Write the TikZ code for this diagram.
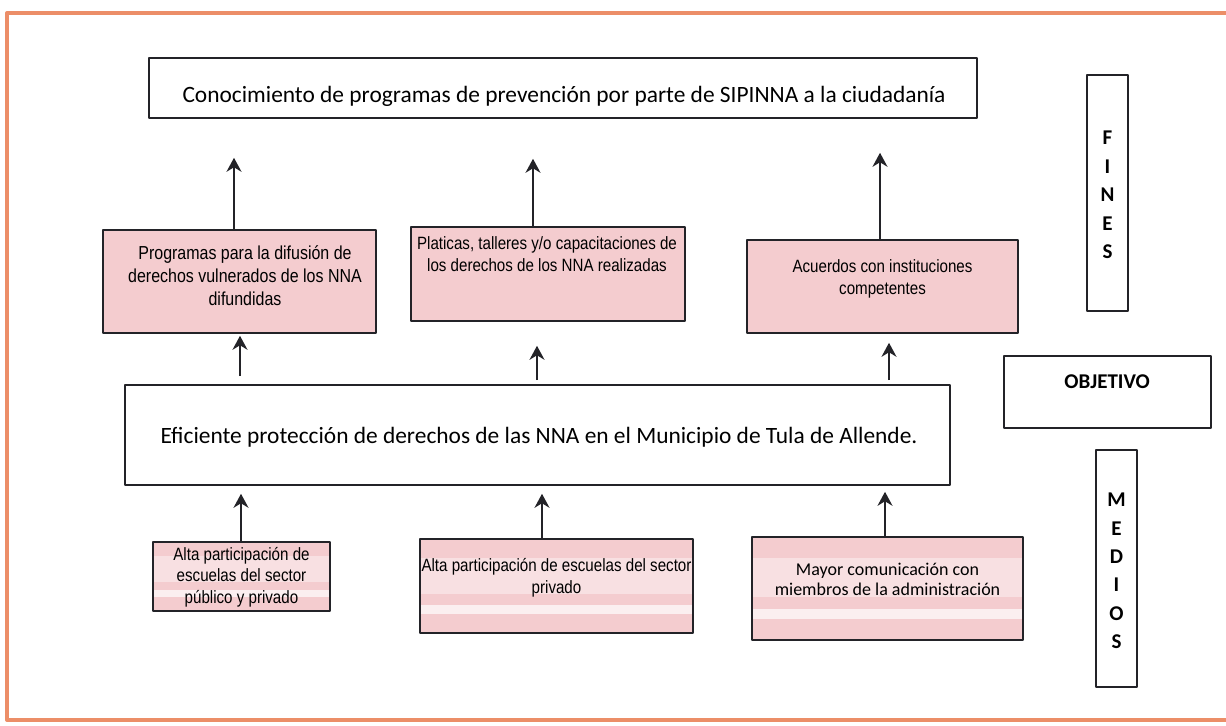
\documentclass[tikz,border=0pt]{standalone}
\usepackage{fontspec}
\setmainfont{Carlito}
\newfontfamily\narrowsf[FakeStretch=0.85]{Liberation Sans}
\usetikzlibrary{arrows.meta,calc}
\definecolor{rosa}{RGB}{244,204,207}
\definecolor{marco}{RGB}{236,142,104}
\definecolor{linea}{RGB}{35,35,40}
\begin{document}
\begin{tikzpicture}[x=0.5pt, y=-0.5pt, line join=round, >={Stealth[length=7pt,width=7.5pt]},
    caja/.style={draw=linea, line width=0.8pt, inner sep=0pt},
    rosada/.style={caja, fill=rosa},
    franjas/.style={rosada, path picture={
        \fill[white, opacity=.4] ($(path picture bounding box.south west)!.42!(path picture bounding box.north west)$) rectangle ($(path picture bounding box.south east)!.80!(path picture bounding box.north east)$);
        \fill[white, opacity=.7] ($(path picture bounding box.south west)!.20!(path picture bounding box.north west)$) rectangle ($(path picture bounding box.south east)!.30!(path picture bounding box.north east)$);}},
    texto/.style={align=center, inner sep=0pt},
    chico/.style={texto, font=\narrowsf\fontsize{8.9}{10.8}\selectfont},
    letras/.style={texto, font=\bfseries\fontsize{10.5}{14.2}\selectfont},
    flecha/.style={->, line width=1pt, draw=linea}]
    \useasboundingbox (0,0) rectangle (1226,726);
    %\draw[dashed, line width=0.1pt, gray, step=50] (0,0) grid (1226,726);
    \draw[marco, line width=2pt] (1230,13) -- (7,13) -- (7,720) -- (1230,720);
    % fines
    \node[caja, minimum width=414pt, minimum height=30pt] (top) at (563,88) {};
    \node[texto, font=\fontsize{11.7}{14}\selectfont] (toptx) at (564,96) {Conocimiento de programas de prevención por parte de SIPINNA a la ciudadanía};
    \node[caja, minimum width=20.5pt, minimum height=118pt] (fines) at (1107.5,193) {};
    \node[letras] (finestx) at (1107.5,195) {F\\I\\N\\E\\S};
    \node[rosada, minimum width=136.5pt, minimum height=51.5pt] (progs) at (239.5,281.5) {};
    \node[chico, font=\narrowsf\fontsize{9.4}{11.5}\selectfont] (progstx) at (245,276) {Programas para la difusión de\\derechos vulnerados de los NNA\\difundidas};
    \node[rosada, minimum width=137pt, minimum height=47pt] (plat) at (548,274) {};
    \node[chico] (plattx) at (547,254) {Platicas, talleres y/o capacitaciones de\\los derechos de los NNA realizadas};
    \node[rosada, minimum width=135.5pt, minimum height=46.5pt] (acuer) at (882.5,286.5) {};
    \node[chico] (acuertx) at (882.5,279) {Acuerdos con instituciones\\competentes};
    % objetivo
    \node[caja, minimum width=103.5pt, minimum height=36pt] (objetivo) at (1107.5,392) {};
    \node[letras] (objetivotx) at (1107,382) {OBJETIVO};
    \node[caja, minimum width=412.5pt, minimum height=50pt] (mid) at (537.5,435) {};
    \node[texto, font=\fontsize{11.7}{14}\selectfont] (midtx) at (539,437) {Eficiente protección de derechos de las NNA en el Municipio de Tula de Allende.};
    % medios
    \node[caja, minimum width=20.5pt, minimum height=118.5pt] (medios) at (1116.5,568.5) {};
    \node[letras] (mediostx) at (1116.5,571) {M\\E\\D\\I\\O\\S};
    \node[franjas, minimum width=88.5pt, minimum height=34.5pt] (alta1) at (241.5,576.5) {};
    \node[chico] (alta1tx) at (241.5,577) {Alta participación de\\escuelas del sector\\público y privado};
    \node[franjas, minimum width=136.5pt, minimum height=47pt] (alta2) at (556.5,586) {};
    \node[chico] (alta2tx) at (556.5,578) {Alta participación de escuelas del sector\\privado};
    \node[franjas, minimum width=135.5pt, minimum height=51.5pt] (mayor) at (887.5,588.5) {};
    \node[texto, font=\fontsize{9}{10}\selectfont] (mayortx) at (887.5,579) {Mayor comunicación con\\miembros de la administración};
    % flechas
    \draw[flecha, shorten >=19.5pt] (234,0 |- progs.north) -- (234,0 |- top.south);
    \draw[flecha, shorten >=20pt] (533,0 |- plat.north) -- (533,0 |- top.south);
    \draw[flecha, shorten >=17pt] (880,0 |- acuer.north) -- (880,0 |- top.south);
    \draw[flecha, shorten <=4pt, shorten >=1pt] (240,0 |- mid.north) -- (240,0 |- progs.south);
    \draw[flecha, shorten <=2pt, shorten >=12pt] (537,0 |- mid.north) -- (537,0 |- plat.south);
    \draw[flecha, shorten <=2pt, shorten >=4.5pt] (889,0 |- mid.north) -- (889,0 |- acuer.south);
    \draw[flecha, shorten >=4pt] (241,0 |- alta1.north) -- (241,0 |- mid.south);
    \draw[flecha, shorten >=4pt] (542,0 |- alta2.north) -- (542,0 |- mid.south);
    \draw[flecha, shorten >=3pt] (885,0 |- mayor.north) -- (885,0 |- mid.south);
\end{tikzpicture}
\end{document}
